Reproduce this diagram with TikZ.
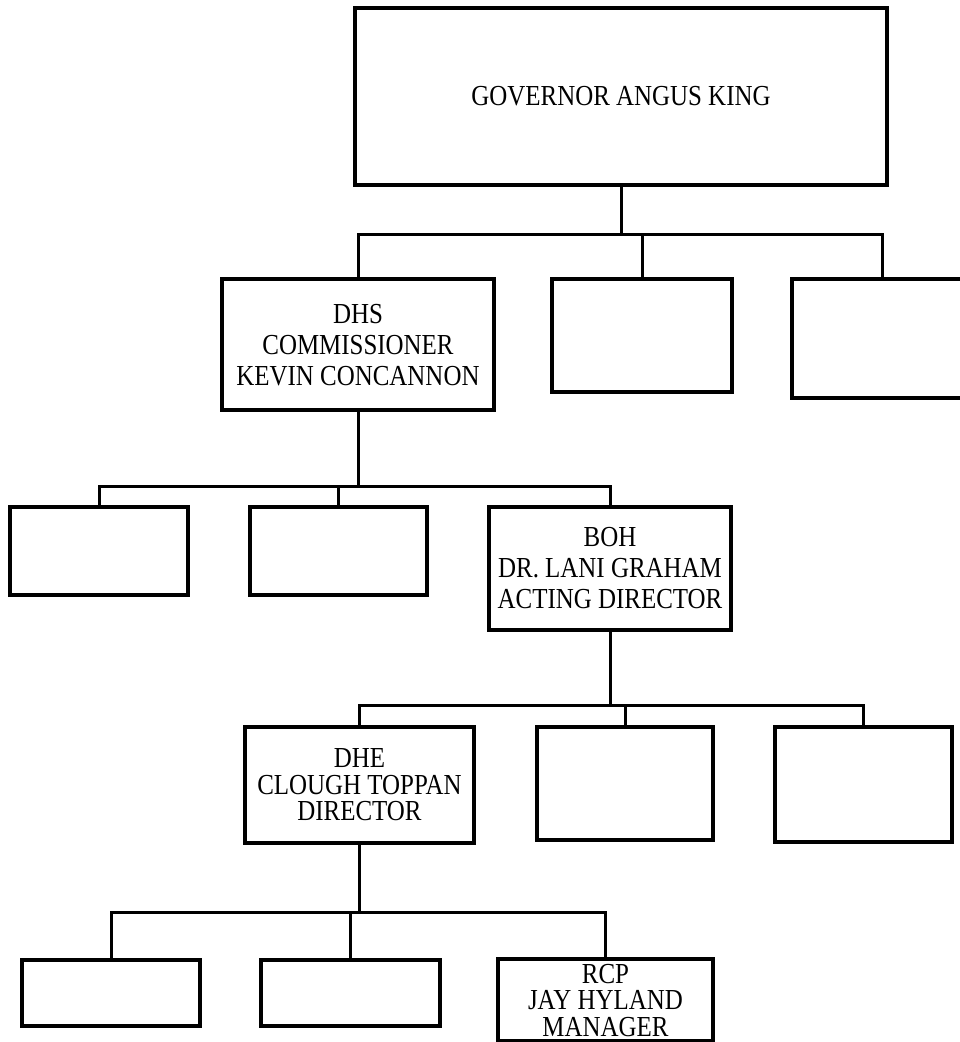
\documentclass[tikz,border=0pt]{standalone}
\usepackage{fontspec}
\setmainfont[FakeStretch=0.86]{Liberation Serif}
\begin{document}
\begin{tikzpicture}[x=1pt,y=-1pt,
  box/.style={draw=black, line width=3.5pt, inner sep=0pt, align=center,
    font=\fontsize{29}{31}\selectfont},
  tight/.style={font=\fontsize{29}{26.5}\selectfont},
  link/.style={draw=black, line width=3pt, line join=miter}]
\clip (0,0) rectangle (960,1042);
\fill[white] (0,0) rectangle (960,1042);

% row 1
\node[box, minimum width=532pt, minimum height=177pt] (gov) at (621,96.5) {GOVERNOR ANGUS KING};
% row 2
\node[box, minimum width=272pt, minimum height=131pt, text depth=0pt] (dhs) at (358,344.5) {DHS\\COMMISSIONER\\KEVIN CONCANNON};
\node[box, minimum width=180pt, minimum height=113pt] (b2) at (642,335.5) {};
\node[box, minimum width=180pt, minimum height=119pt] (b3) at (882,338.5) {};
% row 3
\node[box, minimum width=178pt, minimum height=88pt] (ra) at (99,551) {};
\node[box, minimum width=177pt, minimum height=88pt] (rb) at (338.5,551) {};
\node[box, minimum width=242pt, minimum height=123pt] (boh) at (610,568.5) {BOH\\DR. LANI GRAHAM\\ACTING DIRECTOR};
% row 4
\node[box, tight, minimum width=229pt, minimum height=116pt] (dhe) at (359.5,785) {DHE\\CLOUGH TOPPAN\\DIRECTOR};
\node[box, minimum width=176pt, minimum height=113pt] (rc) at (625,783.5) {};
\node[box, minimum width=177pt, minimum height=115pt] (rd) at (863.5,784.5) {};
% row 5
\node[box, minimum width=178pt, minimum height=66pt] (re) at (111,993) {};
\node[box, minimum width=179pt, minimum height=66pt] (rf) at (350.5,993) {};
\node[box, tight, text depth=0pt, minimum width=215pt, minimum height=82pt] (rcp) at (605.5,1000) {RCP\\JAY HYLAND\\MANAGER};

% bus levels
\coordinate (j1) at (0,234);
\coordinate (j2) at (0,486);
\coordinate (j3) at (0,705);
\coordinate (j4) at (0,912);

% level 1 -> 2
\draw[link] (gov.south) -- (gov.south |- j1);
\draw[link] (dhs.north) -- (dhs.north |- j1) -- (b3.north |- j1) -- (b3.north);
\draw[link] (b2.north) -- (b2.north |- j1);
% level 2 -> 3
\draw[link] (dhs.south) -- (dhs.south |- j2);
\draw[link] (ra.north) -- (ra.north |- j2) -- (boh.north |- j2) -- (boh.north);
\draw[link] (rb.north) -- (rb.north |- j2);
% level 3 -> 4
\draw[link] (boh.south) -- (boh.south |- j3);
\draw[link] (dhe.north) -- (dhe.north |- j3) -- (rd.north |- j3) -- (rd.north);
\draw[link] (rc.north) -- (rc.north |- j3);
% level 4 -> 5
\draw[link] (dhe.south) -- (dhe.south |- j4);
\draw[link] (re.north) -- (re.north |- j4) -- (rcp.north |- j4) -- (rcp.north);
\draw[link] (rf.north) -- (rf.north |- j4);
\end{tikzpicture}
\end{document}
